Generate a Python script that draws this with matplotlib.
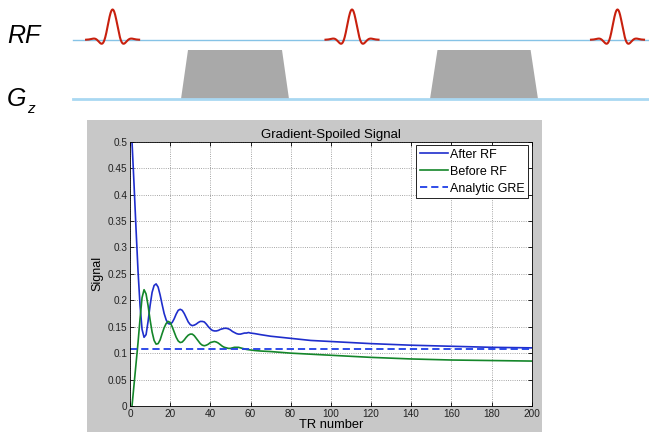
import numpy as np
import matplotlib
matplotlib.use('Agg')
import matplotlib.pyplot as plt
from matplotlib.patches import Rectangle, Polygon

plt.rcParams['font.family'] = ['Liberation Sans', 'DejaVu Sans']

# signal (TR number -> signal)
tr_early = list(range(1, 61))
tr_tail = [62, 65, 70, 80, 90, 100, 120, 140, 160, 180, 200]

after_rf = [0.500, 0.420, 0.335, 0.255, 0.190, 0.145, 0.130, 0.135, 0.160, 0.190,
            0.215, 0.228, 0.231, 0.225, 0.210, 0.192, 0.175, 0.163, 0.156, 0.155,
            0.158, 0.165, 0.174, 0.181, 0.183, 0.181, 0.175, 0.167, 0.159, 0.154,
            0.152, 0.153, 0.155, 0.158, 0.160, 0.160, 0.159, 0.155, 0.150, 0.146,
            0.143, 0.142, 0.142, 0.143, 0.145, 0.146, 0.147, 0.147, 0.146, 0.144,
            0.141, 0.139, 0.137, 0.136, 0.136, 0.137, 0.138, 0.138, 0.139, 0.138]
after_rf_tail = [0.137, 0.135, 0.132, 0.128, 0.124, 0.122, 0.118, 0.115, 0.113, 0.111, 0.110]

before_rf = [0.000, 0.040, 0.080, 0.120, 0.165, 0.205, 0.220, 0.212, 0.190, 0.163,
             0.140, 0.124, 0.117, 0.118, 0.125, 0.137, 0.148, 0.156, 0.160, 0.158,
             0.150, 0.140, 0.130, 0.123, 0.120, 0.121, 0.125, 0.130, 0.134, 0.136,
             0.136, 0.133, 0.128, 0.123, 0.118, 0.115, 0.114, 0.115, 0.117, 0.120,
             0.121, 0.122, 0.121, 0.119, 0.116, 0.113, 0.111, 0.110, 0.109, 0.109,
             0.110, 0.111, 0.111, 0.111, 0.110, 0.109, 0.108, 0.107, 0.1065, 0.106]
before_rf_tail = [0.105, 0.104, 0.103, 0.100, 0.098, 0.096, 0.092, 0.089, 0.087, 0.086, 0.085]

analytic_tr = [0, 200]
analytic_gre = [0.108, 0.108]

xticks = list(range(0, 201, 20))
yticks = [0, 0.05, 0.1, 0.15, 0.2, 0.25, 0.3, 0.35, 0.4, 0.45, 0.5]
ytick_labels = ['0', '0.05', '0.1', '0.15', '0.2', '0.25', '0.3', '0.35', '0.4', '0.45', '0.5']

# pulse sequence diagram (pixel positions)
rf_centers = [112.6, 352.0, 617.5]
gz_lobes = [(181, 188, 282, 289), (430, 437.5, 530.6, 538)]

W, H = 649, 432
fig = plt.figure(figsize=(W / 100, H / 100), dpi=100)

# overlay in pixel coords for the sequence diagram + grey matlab window
bg = fig.add_axes([0, 0, 1, 1])
bg.set_xlim(0, W)
bg.set_ylim(H, 0)
bg.axis('off')
bg.add_patch(Rectangle((87, 120), 455, 312, color='#c8c8c8', lw=0))

bg.plot([73, W], [39.5, 39.5], color='#86c3e6', lw=1.0)
bg.plot([73, W], [98.7, 98.7], color='#a9d8f2', lw=2.0)
for b0, t0, t1, b1 in gz_lobes:
    bg.add_patch(Polygon([(b0, 99), (t0, 50), (t1, 50), (b1, 99)], closed=True,
                         color='#a9a9a9', lw=0))
dx = np.linspace(-26.5, 26.5, 200)
shape = np.sinc(dx / 8.0) * (0.54 + 0.46 * np.cos(np.pi * dx / 26.5))
for c in rf_centers:
    bg.plot(c + dx, 39.5 - 30 * shape, color='#c8200e', lw=1.5)

bg.text(7, 43, 'RF', fontsize=18, style='italic', ha='left', va='baseline')
bg.text(7, 106, 'G', fontsize=18, style='italic', ha='left', va='baseline')
bg.text(27, 113, 'z', fontsize=11, style='italic', ha='left', va='baseline')

# the matlab plot
ax = fig.add_axes([130 / W, 26 / H, 401.7 / W, 264.3 / H])
ax.plot(tr_early + tr_tail, after_rf + after_rf_tail, color='#1f2ecc', lw=1.2, label='After RF')
ax.plot(tr_early + tr_tail, before_rf + before_rf_tail, color='#14862a', lw=1.2, label='Before RF')
ax.plot(analytic_tr, analytic_gre, color='#1f3ee6', lw=1.3, ls=(0, (4, 2.2)), label='Analytic GRE')

ax.set_xlim(0, 200)
ax.set_ylim(0, 0.5)
ax.set_xticks(xticks)
ax.set_yticks(yticks)
ax.set_yticklabels(ytick_labels)
ax.tick_params(direction='in', length=3, width=0.6, labelsize=7.2, top=True, right=True,
               pad=2, labelcolor='#222222')
ax.grid(True, ls=':', color='#555555', lw=0.6, alpha=0.7)
for s in ax.spines.values():
    s.set_linewidth(0.6)
ax.set_title('Gradient-Spoiled Signal', fontsize=9.5, pad=3)
ax.set_xlabel('TR number', fontsize=9.3, labelpad=0.5)
ax.set_ylabel('Signal', fontsize=9, labelpad=3)
leg = ax.legend(loc='upper right', fontsize=9, fancybox=False, edgecolor='black',
                framealpha=1, handlelength=2.3, handletextpad=0.15, labelspacing=0.4,
                borderaxespad=0.3, borderpad=0.25)
leg.get_frame().set_linewidth(0.6)

fig.savefig('out.png', dpi=100)
